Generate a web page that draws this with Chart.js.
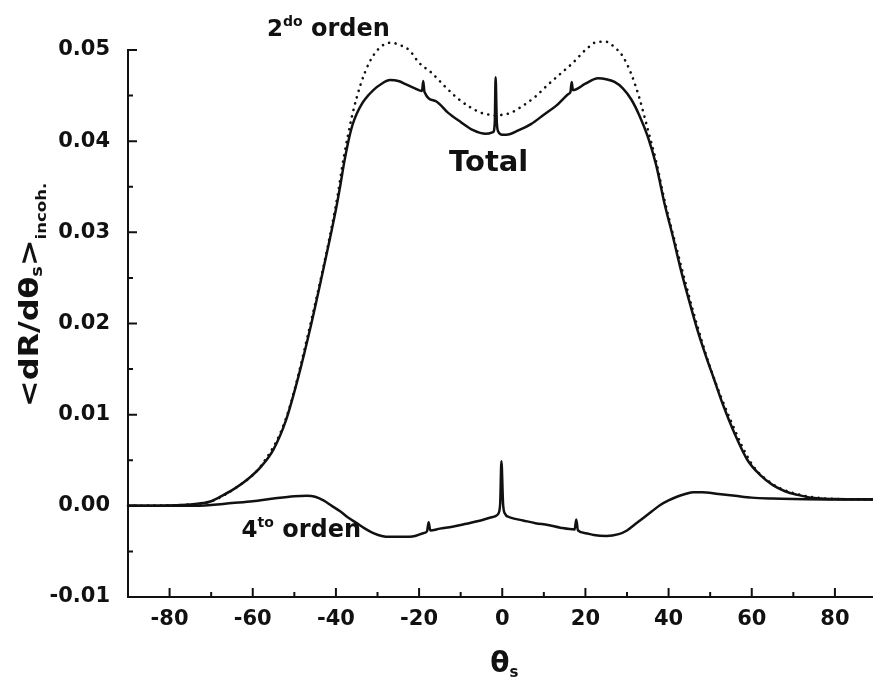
<!DOCTYPE html>
<html>
<head>
<meta charset="utf-8">
<script src="https://cdn.jsdelivr.net/npm/chart.js@4.4.1/dist/chart.umd.min.js"></script>
<style>
  html, body { margin: 0; padding: 0; background: #fff; overflow: hidden; width: 873px; height: 678px; }
  canvas { display: block; }
</style>
</head>
<body>
<canvas id="chart" width="880" height="678"></canvas>
<script>
// valores (y en unidades de 1e-3)
const thTotal = [-90,-80,-75,-72,-70,-67,-64,-61,-58,-55,-52,-49,-46,-43,-40,-39,-38,-37,-36,-35,
  -34,-33,-31,-29,-27,-25,-23,-21,-19.3,-19,-18.7,-16,-13,-10,-7,-4,-2.2,-1.8,-1.6,-1.3,
  -0.9,0,1,4,7,10,13,16,16.4,16.7,17,20,23,25,27,29,31,33,35,37,
  39,41,43,45,47,49,51,53,56,59,62,65,68,71,75,80,90];
const total = [0,0.05,0.15,0.3,0.5,1.2,2.0,3.0,4.3,6.2,9.4,14.2,19.8,26.0,32.5,35.0,37.7,40.0,41.8,43.0,
  43.9,44.6,45.6,46.3,46.7,46.6,46.2,45.8,45.5,46.6,45.4,44.4,43.1,42.1,41.2,40.8,41.0,42.0,47.0,42.0,
  41.0,40.7,40.7,41.2,41.9,42.9,43.9,45.2,45.4,46.5,45.6,46.3,46.9,46.8,46.5,45.8,44.6,42.8,40.5,37.4,
  33.2,29.6,25.8,22.4,19.2,16.4,13.8,11.2,7.8,5.0,3.4,2.3,1.6,1.2,0.85,0.75,0.7];

const thSecond = [-90,-75,-70,-64,-58,-52,-46,-40,-38,-36,-34,-32,-30,-28,-26.5,-25,-22.4,-20,-17,-14,
  -11,-8,-5,-3,-1.5,0,2,5,8,11,14,17,20,23,25,27,29,31,33,35,
  37,39,42,46,50,55,60,65,70,80,90];
const second = [0,0.15,0.5,2.0,4.4,9.6,20.2,33.0,38.5,43.0,46.3,48.6,50.0,50.7,50.8,50.6,50.0,48.6,47.5,46.1,
  44.8,43.8,43.1,42.9,42.8,42.9,43.1,43.9,44.9,46.2,47.4,48.6,50.0,50.9,50.9,50.3,49.3,47.4,44.7,41.3,
  37.8,33.6,28.1,21.2,15.2,9.3,4.6,2.4,1.4,0.75,0.7];

const thFourth = [-90,-75,-70,-65,-60,-55,-50,-47,-45,-43,-41,-39,-37,-35,-33,-31,-29,-27,-24,-21,
  -19,-18.1,-17.7,-17.3,-15,-12,-9,-6,-3,-1.5,-1.0,-0.5,-0.2,0.2,0.7,1.5,2,5,8,11,
  14,17.4,17.8,18.2,20,22,25,28,30,32,34,36,38,40,42,44,46,48,52,56,
  60,65,70,80,90];
const fourth = [0,0,0.1,0.3,0.5,0.8,1.05,1.1,1.0,0.6,0.0,-0.6,-1.3,-1.9,-2.5,-3.0,-3.3,-3.4,-3.4,-3.3,
  -3.0,-2.8,-1.8,-2.7,-2.5,-2.3,-2.0,-1.7,-1.3,-1.1,-0.9,0.2,4.9,0.2,-0.9,-1.2,-1.3,-1.6,-1.9,-2.1,
  -2.4,-2.6,-1.5,-2.7,-3.0,-3.2,-3.3,-3.1,-2.7,-2.0,-1.3,-0.6,0.1,0.6,1.0,1.3,1.5,1.5,1.3,1.1,
  0.9,0.8,0.75,0.7,0.7];

const xTicks = [-80,-60,-40,-20,0,20,40,60,80];
const xMinor = [-90,-70,-50,-30,-10,10,30,50,70,90];
const yTicks = [-0.01,0,0.01,0.02,0.03,0.04,0.05];
const yMinor = [-0.005,0.005,0.015,0.025,0.035,0.045];

const FONT = "'DejaVu Sans', sans-serif";
const INK = '#111';

const pts = (xs, ys) => xs.map((x, i) => ({ x, y: ys[i] / 1000 }));

// marcas de escala hacia dentro
const inwardTicks = {
  id: 'inwardTicks',
  afterDraw(chart) {
    const { ctx, chartArea: a, scales: { x, y } } = chart;
    ctx.save();
    ctx.strokeStyle = INK;
    ctx.lineWidth = 2;
    ctx.beginPath();
    xTicks.forEach(v => { const p = x.getPixelForValue(v); ctx.moveTo(p, a.bottom); ctx.lineTo(p, a.bottom - 9); });
    xMinor.forEach(v => { const p = x.getPixelForValue(v); ctx.moveTo(p, a.bottom); ctx.lineTo(p, a.bottom - 5); });
    yTicks.forEach(v => { const p = y.getPixelForValue(v); ctx.moveTo(a.left, p); ctx.lineTo(a.left + 9, p); });
    yMinor.forEach(v => { const p = y.getPixelForValue(v); ctx.moveTo(a.left, p); ctx.lineTo(a.left + 5, p); });
    ctx.stroke();
    ctx.restore();
  }
};

// texto con sub/superíndices: runs = [texto, tamaño, desplazamiento vertical]
function drawRuns(ctx, x0, y0, runs) {
  let x = x0;
  runs.forEach(([t, size, dy]) => {
    ctx.font = `bold ${size}px ${FONT}`;
    ctx.fillText(t, x, y0 + dy);
    x += ctx.measureText(t).width;
  });
}

const labels = {
  id: 'labels',
  afterDraw(chart) {
    const { ctx, scales: { x, y } } = chart;
    ctx.save();
    ctx.fillStyle = INK;
    ctx.textBaseline = 'alphabetic';
    ctx.textAlign = 'left';

    drawRuns(ctx, x.getPixelForValue(-56.6), y.getPixelForValue(0.0515),
      [['2', 23, 0], ['do', 14, -10], [' orden', 24, 0]]);
    drawRuns(ctx, x.getPixelForValue(-12.8), y.getPixelForValue(0.0367),
      [['Total', 29, 0]]);
    drawRuns(ctx, x.getPixelForValue(-62.7), y.getPixelForValue(-0.0034),
      [['4', 23, 0], ['to', 14, -10], [' orden', 24, 0]]);

    // título eje x
    drawRuns(ctx, x.getPixelForValue(0) - 12, 672, [['θ', 28, 0], ['s', 15, 5]]);

    // título eje y (rotado)
    ctx.translate(38, 407);
    ctx.rotate(-Math.PI / 2);
    ctx.scale(1.18, 1);
    drawRuns(ctx, 0, 0, [['<dR/dθ', 27, 0], ['s', 15, 4], ['>', 27, 0], ['incoh.', 14, 8]]);
    ctx.restore();
  }
};

new Chart(document.getElementById('chart'), {
  type: 'line',
  data: {
    datasets: [
      {
        label: 'Total',
        data: pts(thTotal, total),
        borderColor: INK,
        borderWidth: 2.5,
        cubicInterpolationMode: 'monotone',
        pointRadius: 0,
        order: 1
      },
      {
        label: '4to orden',
        data: pts(thFourth, fourth),
        borderColor: INK,
        borderWidth: 2.5,
        cubicInterpolationMode: 'monotone',
        pointRadius: 0,
        order: 2
      },
      {
        label: '2do orden',
        data: pts(thSecond, second),
        borderColor: INK,
        borderWidth: 2.6,
        borderDash: [0.1, 6.5],
        borderCapStyle: 'round',
        cubicInterpolationMode: 'monotone',
        pointRadius: 0,
        clip: false,
        order: 3
      }
    ]
  },
  options: {
    responsive: false,
    animation: false,
    layout: { padding: { left: 0, top: 50, right: 3.5, bottom: 0 } },
    plugins: { legend: { display: false }, tooltip: { enabled: false } },
    scales: {
      x: {
        type: 'linear',
        min: -90,
        max: 90,
        afterBuildTicks: s => { s.ticks = xTicks.map(v => ({ value: v })); },
        afterFit: s => { s.height = 81; },
        grid: { display: false, drawTicks: false },
        border: { display: true, color: INK, width: 2 },
        ticks: {
          color: INK,
          padding: 10,
          maxRotation: 0,
          autoSkip: false,
          font: { family: FONT, size: 21, weight: 'bold' },
          callback: v => String(v)
        }
      },
      y: {
        type: 'linear',
        min: -0.01,
        max: 0.05,
        afterBuildTicks: s => { s.ticks = yTicks.map(v => ({ value: v })); },
        afterFit: s => { s.width = 128; },
        grid: { display: false, drawTicks: false },
        border: { display: true, color: INK, width: 2 },
        ticks: {
          color: INK,
          padding: 18,
          autoSkip: false,
          font: { family: FONT, size: 21, weight: 'bold' },
          callback: v => v.toFixed(2)
        }
      }
    }
  },
  plugins: [inwardTicks, labels]
});
</script>
</body>
</html>
